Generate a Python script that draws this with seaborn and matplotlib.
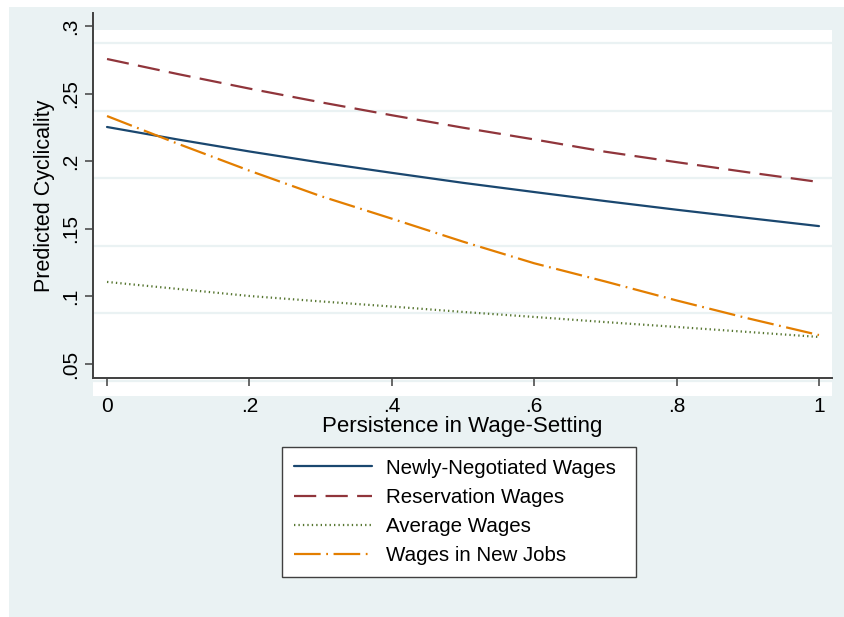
"""Predicted cyclicality vs persistence in wage-setting (Stata s2color look)."""

import numpy as np
import pandas as pd
import seaborn as sns
from matplotlib import pyplot as plt
from matplotlib.patches import Rectangle

sns.set_style("ticks")
plt.rcParams['font.family'] = ['Liberation Sans', 'DejaVu Sans']
plt.rcParams['text.color'] = 'black'
plt.rcParams['axes.labelcolor'] = 'black'

###########
# Data    #
###########
persistence = [0.0, 0.1, 0.2, 0.3, 0.4, 0.5, 0.6, 0.7, 0.8, 0.9, 1.0]

newly_negotiated = [0.2253, 0.2160, 0.2072, 0.1990, 0.1914, 0.1840,
                    0.1772, 0.1705, 0.1641, 0.1580, 0.1520]
reservation = [0.2756, 0.2644, 0.2537, 0.2436, 0.2340, 0.2248,
               0.2161, 0.2070, 0.1993, 0.1918, 0.1846]
average = [0.1107, 0.1055, 0.1003, 0.0963, 0.0925, 0.0885,
           0.0848, 0.0810, 0.0774, 0.0737, 0.0700]
new_jobs = [0.2334, 0.2128, 0.1930, 0.1742, 0.1575, 0.1405,
            0.1245, 0.1110, 0.0970, 0.0838, 0.0714]

series_names = ['Newly-Negotiated Wages', 'Reservation Wages',
                'Average Wages', 'Wages in New Jobs']
series_values = [newly_negotiated, reservation, average, new_jobs]

x_ticks = [0, 0.2, 0.4, 0.6, 0.8, 1]
x_tick_labels = ['0', '.2', '.4', '.6', '.8', '1']
y_ticks = [0.05, 0.1, 0.15, 0.2, 0.25, 0.3]
y_tick_labels = ['.05', '.1', '.15', '.2', '.25', '.3']

# long form for seaborn
df_list = []
for name, vals in zip(series_names, series_values):
    df_list.append(pd.DataFrame({'persistence': persistence,
                                 'cyclicality': vals,
                                 'series': name}))
data = pd.concat(df_list, ignore_index=True)

###########
# Styles  #
###########
BG = '#EAF2F3'
AXIS = '#404040'
palette = {
    'Newly-Negotiated Wages': '#1A476F',
    'Reservation Wages': '#90353B',
    'Average Wages': '#55752F',
    'Wages in New Jobs': '#E37E00',
}
dashes = {
    'Newly-Negotiated Wages': '',
    'Reservation Wages': (10, 4.2),
    'Average Wages': (0.6, 1.4),
    'Wages in New Jobs': (12, 2.5, 0.8, 2.5),
}

########
# Plot #
########
fig = plt.figure(figsize=(8.45, 6.17), dpi=100, facecolor='white')
# graph region (light blue, inset at left/top)
fig.patches.append(Rectangle((9 / 845, 0), 1, 1 - 7 / 617,
                             transform=fig.transFigure, facecolor=BG,
                             edgecolor='none', zorder=-10))

ax = fig.add_axes([93 / 845, 239 / 617, 739 / 845, 365 / 617])
ax.set_facecolor('none')

# white plot region (shifted relative to axes like the original)
ax.add_patch(Rectangle((0, -18 / 365), 1, 366 / 365, transform=ax.transAxes,
                       facecolor='white', edgecolor='none', zorder=-5,
                       clip_on=False))

ax.set_xlim(-0.0197, 1.0183)
ax.set_ylim(0.03964, 0.30962)

# offset gridlines
for g in [0.2874, 0.2371, 0.1876, 0.1373, 0.0877, 0.0374]:
    ax.plot([-0.0197, 1.0183], [g, g], color=BG, lw=1.6, zorder=-4,
            clip_on=False)

sns.lineplot(
    ax=ax,
    data=data,
    x='persistence',
    y='cyclicality',
    hue='series',
    style='series',
    hue_order=series_names,
    style_order=series_names,
    palette=palette,
    dashes=dashes,
    linewidth=1.6,
    legend=True,
)

handles, labels = ax.get_legend_handles_labels()
ax.get_legend().remove()

ax.set_xticks(x_ticks)
ax.set_xticklabels(x_tick_labels)
ax.set_yticks(y_ticks)
ax.set_yticklabels(y_tick_labels, rotation=90, va='center')

ax.tick_params(axis='both', length=5.5, width=1.1, color=AXIS,
               labelsize=15, labelcolor='black')
ax.tick_params(axis='y', pad=4)
ax.tick_params(axis='x', pad=8)

for side in ['top', 'right']:
    ax.spines[side].set_visible(False)
for side in ['left', 'bottom']:
    ax.spines[side].set_color(AXIS)
    ax.spines[side].set_linewidth(1.4)

ax.set_xlabel('Persistence in Wage-Setting', fontsize=16, labelpad=0,
              color='black')
ax.set_ylabel('Predicted Cyclicality', fontsize=15.5, labelpad=4,
              color='black')

leg = fig.legend(
    handles, labels,
    loc='upper left',
    bbox_to_anchor=(282 / 845, 1 - 447 / 617, 354 / 845, 0),
    mode='expand',
    borderaxespad=0,
    fontsize=14.8,
    handlelength=3.8,
    handletextpad=0.72,
    borderpad=0.56,
    labelspacing=0.5,
    frameon=True,
    fancybox=False,
    framealpha=1,
)
leg.get_frame().set_edgecolor(AXIS)
leg.get_frame().set_linewidth(1.0)
leg.get_frame().set_facecolor('white')
for t in leg.get_texts():
    t.set_color('black')

fig.savefig('out.png', dpi=100, facecolor=fig.get_facecolor())
